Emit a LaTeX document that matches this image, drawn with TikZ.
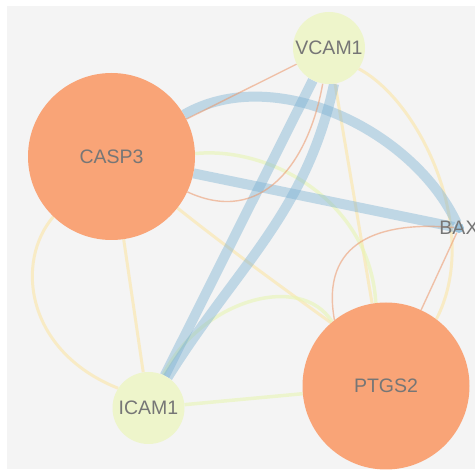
\documentclass[tikz,border=0pt]{standalone}
\usepackage{fontspec}
\setmainfont{Liberation Sans}
\usetikzlibrary{positioning}
\definecolor{hubfill}{RGB}{249,164,119}
\definecolor{leaffill}{RGB}{238,245,203}
\definecolor{bgfill}{RGB}{244,244,244}
\definecolor{blueedge}{RGB}{120,175,210}
\definecolor{orangeedge}{RGB}{236,150,105}
\definecolor{yellowedge}{RGB}{252,228,160}
\definecolor{greenedge}{RGB}{232,245,180}
\definecolor{labelgray}{RGB}{118,118,118}
\pgfdeclarelayer{back}
\pgfdeclarelayer{links}
\pgfsetlayers{back,links,main}

\begin{document}
\begin{tikzpicture}[x=1pt,y=1pt,
		every node/.style={circle,inner sep=0pt,text=labelgray,font=\fontsize{19.5}{20}\selectfont},
		hub/.style={fill=hubfill,minimum size=167pt},
		leaf/.style={fill=leaffill,minimum size=72pt},
		tiny/.style={fill=blueedge!75,minimum size=10pt},
		blue link/.style={draw=blueedge,line width=10pt,opacity=0.42},
		orange link/.style={draw=orangeedge,line width=1.4pt,opacity=0.55},
		pale link/.style={draw=yellowedge,line width=3pt,opacity=0.55},
		green link/.style={draw=greenedge,line width=3.5pt,opacity=0.6}]
		\useasboundingbox (0,0) rectangle (475,471);
		\begin{pgfonlayer}{back}
			\fill[bgfill] (7,2) rectangle (475,465);
		\end{pgfonlayer}

		\node[hub] (CASP3) at (111.5,314.5) {CASP3};
		\node[hub] (PTGS2) at (386,85) {PTGS2};
		\node[leaf] (VCAM1) at (329,423) {VCAM1};
		\node[leaf] (ICAM1) at (148.5,63) {ICAM1};
		\node[tiny,label={center:BAX}] (BAX) at (459,243) {};

		\begin{pgfonlayer}{links}
			% pale ones first
			\path
			(CASP3) edge[pale link] (ICAM1)
			(VCAM1) edge[pale link] (PTGS2)
			(ICAM1) edge[green link] (PTGS2)
			;
			\draw[pale link] (CASP3.226) .. controls (15,210) and (25,120) .. (ICAM1.147);
			\draw[pale link] (VCAM1.-35) .. controls (420,370) and (482,240) .. (PTGS2.53);
			\draw[pale link] (CASP3.-38) .. controls (225,225) and (280,185) .. (PTGS2.131);
			\draw[green link] (CASP3.2) .. controls (270,325) and (370,270) .. (PTGS2.97);
			\draw[green link] (ICAM1.66) .. controls (200,170) and (300,200) .. (PTGS2.130);

			\path
			(CASP3) edge[blue link, out=30, in=115, looseness=0.9] (BAX)
			(CASP3) edge[blue link] (BAX)
			(VCAM1) edge[blue link] (ICAM1)
			(VCAM1.-82) edge[blue link, out=-102, in=58] (ICAM1)
			(CASP3) edge[orange link] (VCAM1)
			(CASP3) edge[orange link, out=-25, in=-100, looseness=1.2] (VCAM1)
			(PTGS2) edge[orange link] (BAX)
			;
			\draw[orange link] (PTGS2.128) .. controls (320,230) and (380,250) .. (BAX);
		\end{pgfonlayer}
	\end{tikzpicture}
\end{document}
